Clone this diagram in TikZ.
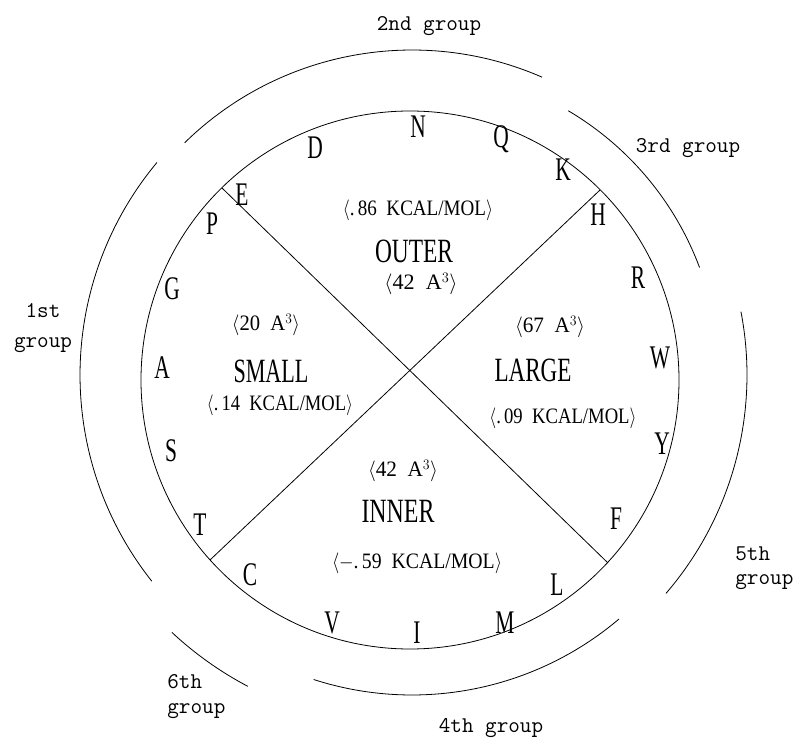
\documentclass[tikz,border=0pt]{standalone}
\usepackage{fontspec}
\setmainfont{Liberation Serif}
\usepackage{graphicx}
\newcommand{\cn}[1]{\scalebox{0.65}[1]{#1}}
\newcommand{\fitw}[2]{\resizebox{#1}{\height}{#2}}
\begin{document}
\begin{tikzpicture}[x=1pt,y=-1pt, line width=0.8pt,
  aa/.style={font=\fontsize{33}{33}\selectfont, inner sep=0pt},
  region/.style={font=\fontsize{34}{34}\selectfont, inner sep=0pt},
  note/.style={font=\fontsize{22}{22}\selectfont, inner sep=0pt},
  grp/.style={font=\ttfamily\fontsize{22.5}{24}\selectfont, inner sep=0pt}]
\useasboundingbox (0,0) rectangle (796,738);

% inner circle and dividing lines
\coordinate (ci) at (410,380);
\draw (ci) circle[radius=269];
\coordinate (pE) at (222,188);
\coordinate (pH) at (600,190);
\coordinate (pF) at (608,563);
\coordinate (pT) at (210,560);
\draw (pE) -- (pF);
\draw (pH) -- (pT);

% outer group arcs
\coordinate (co) at (412,375);
\draw (co) ++(-134.4:325) arc[start angle=-134.4, end angle=-66.4, radius=325];
\draw (co) ++(-59.4:307) arc[start angle=-59.4, end angle=-20.5, radius=307];
\draw (co) ++(-10.9:335) arc[start angle=-10.9, end angle=40.7, radius=335];
\draw (co) ++(49.7:320) arc[start angle=49.7, end angle=107.9, radius=320];
\draw (co) ++(117.8:352) arc[start angle=117.8, end angle=133, radius=352];
\draw (co) ++(141.6:332) arc[start angle=141.6, end angle=219.8, radius=332];

% amino acid letters
\node[aa] (N) at (418,127) {\cn{N}};
\node[aa] (Q) at (501,139) {\cn{Q}};
\node[aa] (K) at (563,170) {\cn{K}};
\node[aa] (H) at (598,215) {\cn{H}};
\node[aa] (R) at (638,278) {\cn{R}};
\node[aa] (W) at (660,358) {\cn{W}};
\node[aa] (Y) at (662,444) {\cn{Y}};
\node[aa] (F) at (616,519) {\cn{F}};
\node[aa] (L) at (557,585) {\cn{L}};
\node[aa] (M) at (505,623) {\cn{M}};
\node[aa] (I) at (417,633) {\cn{I}};
\node[aa] (V) at (332,623) {\cn{V}};
\node[aa] (C) at (250,575) {\cn{C}};
\node[aa] (T) at (200,525) {\cn{T}};
\node[aa] (S) at (171,451) {\cn{S}};
\node[aa] (A) at (162,368) {\cn{A}};
\node[aa] (G) at (172,289) {\cn{G}};
\node[aa] (P) at (212,224) {\cn{P}};
\node[aa] (E) at (242,195) {\cn{E}};
\node[aa] (D) at (315,148) {\cn{D}};

% region names
\node[region] (outer) at (414,251) {\fitw{78pt}{OUTER}};
\node[region] (small) at (271,371) {\fitw{75pt}{SMALL}};
\node[region] (large) at (533,370) {\fitw{77pt}{LARGE}};
\node[region] (innr)  at (398,511) {\fitw{73pt}{INNER}};

% notes
\node[note] (o1) at (418,210) {\fitw{150pt}{$\langle$.\,86\ \ KCAL/MOL$\rangle$}};
\node[note] (o2) at (421,284) {\fitw{73pt}{$\langle$42\ \ A$^3\rangle$}};
\node[note] (s1) at (266,325) {\fitw{68pt}{$\langle$20\ \ A$^3\rangle$}};
\node[note] (s2) at (280,405) {\fitw{146pt}{$\langle$.\,14\ \ KCAL/MOL$\rangle$}};
\node[note] (l1) at (550,327) {\fitw{70pt}{$\langle$67\ \ A$^3\rangle$}};
\node[note] (l2) at (563,418) {\fitw{147pt}{$\langle$.\,09\ \ KCAL/MOL$\rangle$}};
\node[note] (i1) at (403,471) {\fitw{70pt}{$\langle$42\ \ A$^3\rangle$}};
\node[note] (i2) at (417,563) {\fitw{170pt}{$\langle-$.\,59\ \ KCAL/MOL$\rangle$}};

% group labels
\node[grp, anchor=base] (g2) at (429,31) {2nd group};
\node[grp, anchor=base] (g3) at (688,153) {3rd group};
\node[grp, anchor=base] (g4) at (491,732) {4th group};
\node[grp, anchor=north, align=center, font=\ttfamily\fontsize{22.5}{30}\selectfont] (g1) at (43,303) {1st\\group};
\node[grp, anchor=north west, align=left] (g5) at (735,546) {5th\\group};
\node[grp, anchor=north west, align=left, font=\ttfamily\fontsize{22.5}{25}\selectfont] (g6) at (167,674) {6th\\group};
\end{tikzpicture}
\end{document}
